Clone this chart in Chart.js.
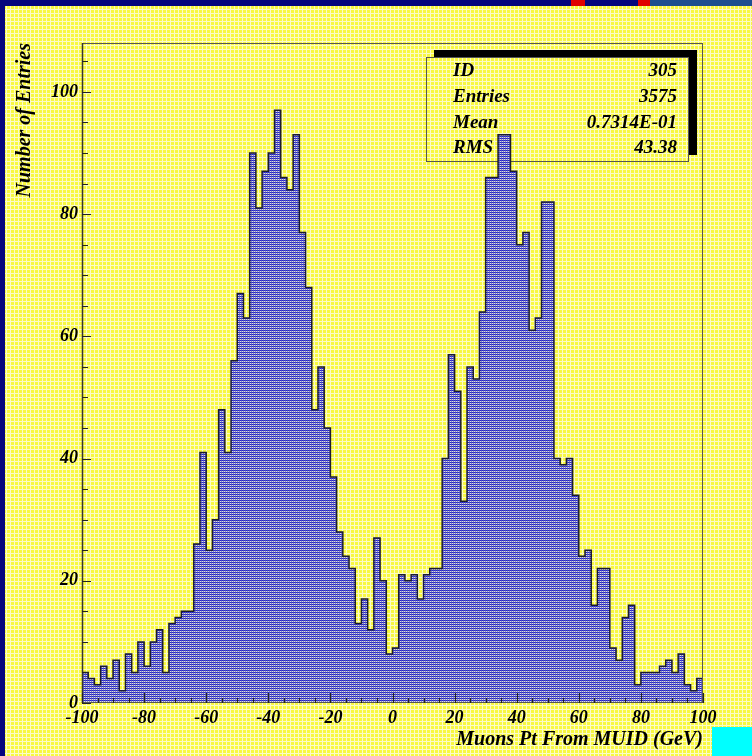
<!DOCTYPE html>
<html><head><meta charset="utf-8">
<script src="https://cdn.jsdelivr.net/npm/chart.js@4.4.0/dist/chart.umd.min.js"></script>
<style>html,body{margin:0;padding:0;background:#05057d;overflow:hidden}canvas{display:block}</style>
</head><body>
<canvas id="c" width="752" height="756"></canvas>
<script>
// ---- data ----
const xMin = -100, xMax = 100, binWidth = 2;
const counts = [
  5,4,3,6,4,7,2,8,5,10,6,10,12,5,13,14,15,15,
  26,41,25,30,48,41,56,67,63,90,81,87,90,97,86,84,93,77,68,48,55,45,37,
  28,24,22,13,17,12,27,20,8,9,21,20,21,17,21,22,22,
  40,57,51,33,55,53,64,86,86,93,93,87,75,77,61,63,82,82,
  40,39,40,34,24,25,16,22,22,9,7,14,16,3,5,5,5,6,7,5,8,3,2,4
];
const xTicks = [-100,-80,-60,-40,-20,0,20,40,60,80,100];
const yTicks = [0,20,40,60,80,100];
const yMax = 108;
const statLabels = ['ID','Entries','Mean','RMS'];
const statValues = ['305','3575','0.7314E-01','43.38'];
const xTitle = 'Muons Pt From MUID (GeV)';
const yTitle = 'Number of Entries';

// ---- build step points from bins (left edges + closing edge) ----
const points = counts.map((c,i)=>({x: xMin + i*binWidth, y: c}));
points.push({x: xMax, y: counts[counts.length-1]});

const canvas = document.getElementById('c');
const mctx = canvas.getContext('2d');
function makePattern(w,h,fn){
  const c=document.createElement('canvas');c.width=w;c.height=h;
  const g=c.getContext('2d');
  for(let y=0;y<h;y++)for(let x=0;x<w;x++){g.fillStyle=fn(x,y);g.fillRect(x,y,1,1);}
  return mctx.createPattern(c,'repeat');
}
const yellowPat = makePattern(4,4,(x,y)=> (y%4===1||x%4===2) ? '#fbfbc8' : '#f8f840');
const bluePat = makePattern(2,2,(x,y)=> y%2===0 ? (x%2===0?'#2222c4':'#4848cc') : (x%2===0?'#dcdcea':'#8484b4'));

const FONT = "'Liberation Serif','Times New Roman',serif";

const deco = {
  id:'deco',
  beforeDraw(chart){
    const ctx=chart.ctx; ctx.save();
    ctx.fillStyle='#05057d'; ctx.fillRect(0,0,752,756);
    ctx.fillStyle=yellowPat; ctx.fillRect(5,6,747,750);
    ctx.fillStyle='#e00000'; ctx.fillRect(571,0,14,6); ctx.fillRect(638,0,12,6);
    ctx.fillStyle='#1d4f8f'; ctx.fillRect(650,0,102,6);
    ctx.fillStyle='#00ffff'; ctx.fillRect(712,727,40,29);
    ctx.restore();
  },
  beforeDatasetsDraw(chart){
    const ctx=chart.ctx; ctx.save();
    // stats box with shadow
    ctx.fillStyle='#000'; ctx.fillRect(434,50,263,105);
    ctx.fillStyle=yellowPat; ctx.fillRect(426,57,263,105);
    ctx.strokeStyle='#555'; ctx.lineWidth=1; ctx.strokeRect(426.5,57.5,262,104);
    ctx.fillStyle='#000';
    ctx.font = "italic bold 19px "+FONT;
    ctx.textBaseline='alphabetic';
    statLabels.forEach((l,i)=>{
      const by = 76 + i*25.8;
      ctx.textAlign='left'; ctx.fillText(l,453,by);
      ctx.textAlign='right'; ctx.fillText(statValues[i],677,by);
    });
    ctx.restore();
  },
  afterDatasetsDraw(chart){
    const ctx=chart.ctx, a=chart.chartArea, xs=chart.scales.x, ys=chart.scales.y;
    ctx.save();
    ctx.strokeStyle='#555'; ctx.lineWidth=1;
    ctx.strokeRect(a.left+0.5,a.top+0.5,a.right-a.left-1,a.bottom-a.top-1);
    ctx.strokeStyle='#333'; ctx.lineWidth=1.5;
    ctx.beginPath(); ctx.moveTo(a.left+0.5,a.top); ctx.lineTo(a.left+0.5,a.bottom); ctx.stroke();
    ctx.lineWidth=1.2; ctx.strokeStyle='#222';
    ctx.beginPath();
    for(let v=xMin; v<=xMax; v+=5){
      const px=Math.round(xs.getPixelForValue(v))+0.5;
      const len = (v%20===0)?10:5;
      ctx.moveTo(px,a.bottom); ctx.lineTo(px,a.bottom-len);
    }
    for(let v=0; v<=yMax; v+=5){
      const py=Math.round(ys.getPixelForValue(v))+0.5;
      const len = (v%20===0)?9:6;
      ctx.moveTo(a.left,py); ctx.lineTo(a.left+len,py);
    }
    ctx.stroke();
    ctx.restore();
  }
};

new Chart(canvas,{
  type:'line',
  data:{datasets:[{
    data: points, stepped:'before', fill:'origin',
    backgroundColor: bluePat, borderColor:'#1a1a30', borderWidth:1.5,
    pointRadius:0, pointHoverRadius:0
  }]},
  options:{
    responsive:false, animation:false, devicePixelRatio:1,
    layout:{padding:{top:43,right:49,left:0,bottom:0}},
    plugins:{legend:{display:false},tooltip:{enabled:false}},
    scales:{
      x:{type:'linear',min:xMin,max:xMax,
        afterFit(s){s.height=53;},
        afterBuildTicks(s){s.ticks = xTicks.map(v=>({value:v}));},
        grid:{display:false,drawTicks:false}, border:{display:false},
        ticks:{color:'#000',padding:5,maxRotation:0,autoSkip:false,
          font:{family:FONT,size:18,weight:'bold',style:'italic'},
          callback:v=>String(v)},
        title:{display:true,text:xTitle,align:'end',color:'#000',padding:{top:0,bottom:4},
          font:{family:FONT,size:20,weight:'bold',style:'italic'}}
      },
      y:{type:'linear',min:0,max:yMax,
        afterFit(s){s.width=82;},
        afterBuildTicks(s){s.ticks = yTicks.map(v=>({value:v}));},
        grid:{display:false,drawTicks:false}, border:{display:false},
        ticks:{color:'#000',padding:4,
          font:{family:FONT,size:18,weight:'bold',style:'italic'},
          callback:v=>String(v)},
        title:{display:true,text:yTitle,align:'end',color:'#000',padding:{top:13,bottom:0},
          font:{family:FONT,size:20,weight:'bold',style:'italic'}}
      }
    }
  },
  plugins:[deco]
});
</script>
</body></html>
